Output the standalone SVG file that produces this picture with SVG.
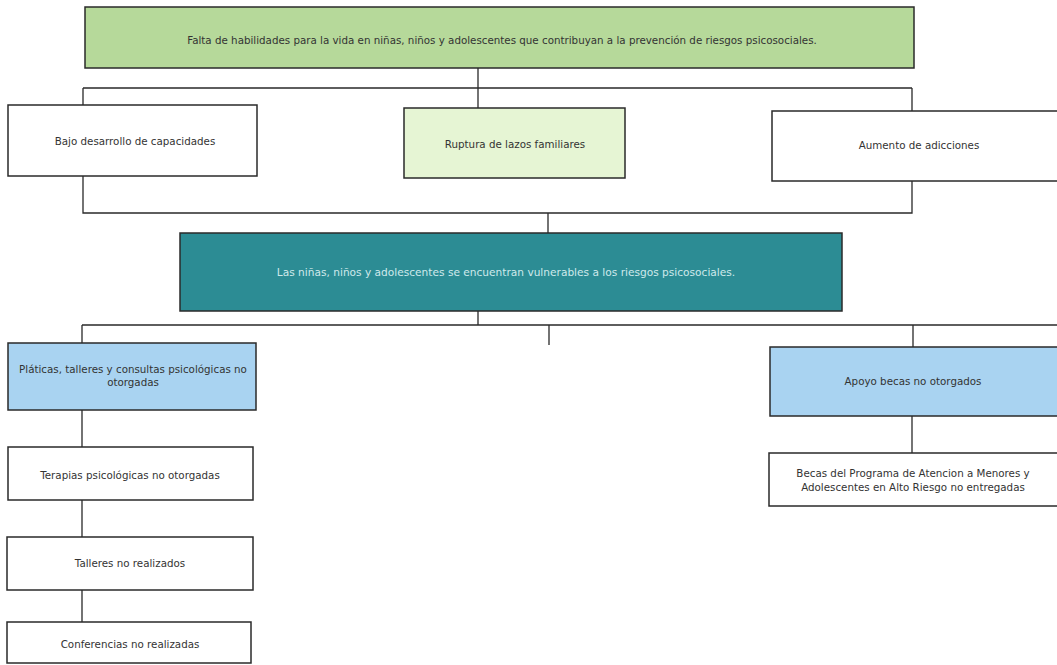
<svg xmlns="http://www.w3.org/2000/svg" width="1057" height="665" viewBox="0 0 1057 665">
<style>
.box{stroke:#2a2a2a;stroke-width:1.5}
.w{fill:#ffffff}
.g{fill:#b6d99a}
.lg{fill:#e6f5d4}
.b{fill:#a9d3f1}
.t{fill:#2c8c94}
text{font-family:"DejaVu Sans","Liberation Sans",Arial,sans-serif;font-size:10.3px;fill:#333;text-anchor:middle}
.wt{fill:#cfe9eb;font-size:10.6px}
.c{fill:none;stroke:#2a2a2a;stroke-width:1.3}
</style>
<rect width="1057" height="665" fill="#ffffff"/>
<g id="connectors">
<path class="c" d="M478 68V88M83 88H912M83 88V105M478 88V108M912 88V111"/>
<path class="c" d="M83 176V213H912V181M548 213V233"/>
<path class="c" d="M478 311V325M82 325H1057M549 325V345M82 325V343M913 325V347"/>
<path class="c" d="M82 410V447M82 500V537M82 590V622"/>
<path class="c" d="M912 416V453"/>
</g>
<g id="n_top"><rect class="box g" x="85" y="7" width="829" height="61"/><text x="502" y="44" font-size="10.8">Falta de habilidades para la vida en niñas, niños y adolescentes que contribuyan a la prevención de riesgos psicosociales.</text></g>
<g id="n_bajo"><rect class="box w" x="8" y="105" width="249" height="71"/><text x="135" y="145">Bajo desarrollo de capacidades</text></g>
<g id="n_ruptura"><rect class="box lg" x="404" y="108" width="221" height="70"/><text x="515" y="148">Ruptura de lazos familiares</text></g>
<g id="n_aumento"><rect class="box w" x="772" y="111" width="290" height="70"/><text x="919" y="149">Aumento de adicciones</text></g>
<g id="n_centro"><rect class="box t" x="180" y="233" width="662" height="78"/><text class="wt" x="506" y="276">Las niñas, niños y adolescentes se encuentran vulnerables a los riesgos psicosociales.</text></g>
<g id="n_platicas"><rect class="box b" x="8" y="343" width="248" height="67"/><text x="133" y="373">Pláticas, talleres y consultas psicológicas no</text><text x="133" y="386">otorgadas</text></g>
<g id="n_terapias"><rect class="box w" x="8" y="447" width="245" height="53"/><text x="130" y="479">Terapias psicológicas no otorgadas</text></g>
<g id="n_talleres"><rect class="box w" x="7" y="537" width="246" height="53"/><text x="130" y="567">Talleres no realizados</text></g>
<g id="n_conferencias"><rect class="box w" x="7" y="622" width="244" height="41"/><text x="130" y="648">Conferencias no realizadas</text></g>
<g id="n_apoyo"><rect class="box b" x="770" y="347" width="292" height="69"/><text x="913" y="385">Apoyo becas no otorgados</text></g>
<g id="n_becas"><rect class="box w" x="769" y="453" width="293" height="53"/><text x="913" y="477">Becas del Programa de Atencion a Menores y</text><text x="913" y="491">Adolescentes en Alto Riesgo no entregadas</text></g>
</svg>
